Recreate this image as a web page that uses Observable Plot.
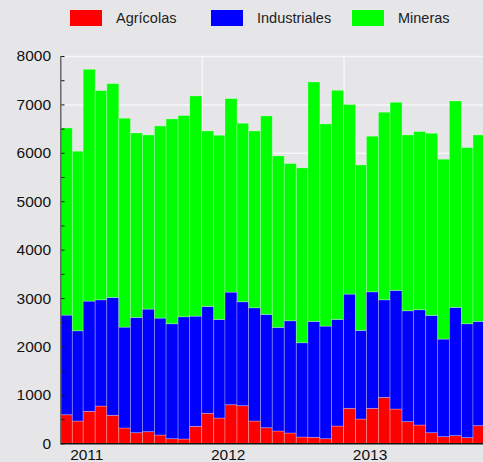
<!DOCTYPE html>
<html>
<head>
<meta charset="utf-8">
<script src="https://cdn.jsdelivr.net/npm/d3@7"></script>
<script src="https://cdn.jsdelivr.net/npm/@observablehq/plot@0.6"></script>
<style>
  html, body { margin: 0; padding: 0; background: #e6e6e8; }
  body { width: 483px; height: 462px; overflow: hidden; font-family: "Liberation Sans", Arial, sans-serif; }
  #legend { position: relative; height: 40px; width: 483px; }
  .sw { position: absolute; top: 10px; width: 32px; height: 16px; }
  .lt { position: absolute; top: 9px; font-size: 14.5px; line-height: 18px; color: #222; }
  #chart svg { display: block; overflow: hidden; }
</style>
</head>
<body>
<div id="legend"></div>
<div id="chart"></div>
<script>
// Monthly values Jan 2011 – Dec 2013
const years = [2011, 2012, 2013];
const series = ["Agrícolas", "Industriales", "Mineras"];
const colors = ["#ff0000", "#0000ff", "#00ff00"];
const agricolas = [590, 460, 660, 770, 578, 316, 219, 240, 171, 95, 89, 350,
                   619, 522, 797, 777, 460, 322, 254, 213, 130, 124, 95, 357,
                   722, 502, 722, 949, 708, 447, 378, 219, 137, 158, 117, 364];
const industriales = [2058, 1864, 2277, 2194, 2435, 2084, 2381, 2532, 2415, 2375, 2525, 2277,
                      2208, 2037, 2326, 2146, 2339, 2340, 2140, 2318, 1947, 2394, 2326, 2202,
                      2360, 1830, 2407, 2015, 2450, 2290, 2380, 2423, 2016, 2649, 2352, 2154];
const mineras = [3866, 3709, 4788, 4322, 4417, 4314, 3811, 3598, 3970, 4230, 4156, 4548,
                 3625, 3804, 3997, 3688, 3653, 4100, 3542, 3248, 3612, 4946, 4176, 4733,
                 3915, 3418, 3214, 3874, 3886, 3633, 3682, 3762, 3715, 4264, 3640, 3852];
const yTicks = [0, 1000, 2000, 3000, 4000, 5000, 6000, 7000, 8000];
const yMinor = [500, 1500, 2500, 3500, 4500, 5500, 6500, 7500];

const values = [agricolas, industriales, mineras];
const data = [];
for (let i = 0; i < agricolas.length; i++) {
  const y = years[0] + Math.floor(i / 12), m = i % 12;
  const date = new Date(Date.UTC(y, m, 1));
  const end = new Date(Date.UTC(y, m + 1, 1));
  series.forEach((s, k) => data.push({date, end, serie: s, value: values[k][i]}));
}
const yearDates = years.map(y => new Date(Date.UTC(y, 0, 1)));
const endDate = new Date(Date.UTC(years[years.length - 1] + 1, 0, 1));

// legend
const legend = document.getElementById("legend");
const swX = [70, 211, 352];
series.forEach((s, k) => {
  const sw = document.createElement("div");
  sw.className = "sw"; sw.style.left = swX[k] + "px"; sw.style.background = colors[k];
  legend.appendChild(sw);
  const t = document.createElement("div");
  t.className = "lt"; t.style.left = (swX[k] + 46) + "px"; t.textContent = s;
  legend.appendChild(t);
});

const font = "'Liberation Sans', Arial, sans-serif";
const chart = Plot.plot({
  width: 483,
  height: 422,
  marginTop: 16,
  marginBottom: 18.7,
  marginLeft: 60.5,
  marginRight: 0,
  style: {background: "transparent", fontFamily: font, fontSize: "15.5px", color: "#111"},
  x: {type: "utc", domain: [yearDates[0], endDate], range: [60.3, 485], label: null},
  y: {domain: [0, 8000], label: null},
  color: {domain: series, range: colors},
  marks: [
    Plot.gridY(yTicks, {stroke: "#f7f7f7", strokeOpacity: 1, strokeWidth: 1.5}),
    Plot.gridX(yearDates, {stroke: "#f7f7f7", strokeOpacity: 1, strokeWidth: 1.5}),
    Plot.rectY(data, {x1: "date", x2: "end", y: "value", z: "serie", fill: "serie",
      stroke: "white", strokeOpacity: 0.35, strokeWidth: 0.8}),
    Plot.axisY(yTicks, {tickSize: 0, tickPadding: 10, tickFormat: d => String(d), label: null, fontSize: 15.5, fill: "#111"}),
    Plot.axisY(yTicks, {tickSize: -4, text: null, label: null, stroke: "#111"}),
    Plot.axisY(yMinor, {tickSize: -4, text: null, label: null, stroke: "#111"}),
    Plot.axisX(yearDates, {tickSize: 0, tickPadding: 5, tickFormat: d3.utcFormat("%Y"), label: null, dx: 26, fontSize: 15.5, fill: "#111"}),
    Plot.ruleX([yearDates[0]], {stroke: "#666", strokeWidth: 1.5}),
    Plot.ruleY([0], {stroke: "#111", strokeWidth: 1.5})
  ]
});
document.getElementById("chart").appendChild(chart);
</script>
</body>
</html>
